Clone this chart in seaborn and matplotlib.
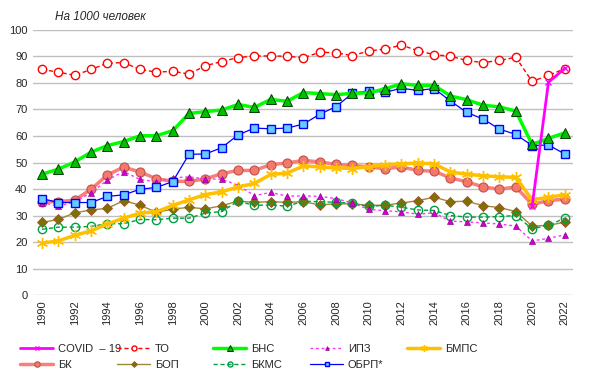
import numpy as np
import pandas as pd
import matplotlib
matplotlib.use('Agg')
import matplotlib.pyplot as plt
import seaborn as sns

years = list(range(1990, 2023))

covid = [np.nan] * 30 + [33.5, 80.3, 85.5]
to = [85.1, 84.1, 82.9, 85.1, 87.5, 87.7, 85.1, 84.1, 84.4, 83.4, 86.5, 88.1, 89.6, 90.2, 90.2, 90.1, 89.5,
      91.6, 91.4, 90.3, 92.1, 92.8, 94.3, 92.2, 90.7, 90.1, 88.5, 87.7, 88.5, 89.7, 80.6, 82.9, 85.4]
bns = [45.6, 47.5, 50.2, 53.9, 56.4, 57.9, 60.1, 60.1, 62.0, 68.5, 69.2, 69.8, 71.9, 70.8, 73.8, 73.1, 76.4,
       76.0, 75.6, 76.1, 76.3, 77.8, 79.7, 79.1, 79.1, 75.1, 73.7, 71.6, 71.0, 69.4, 56.8, 59.1, 61.2]
ipz = [34.9, 33.5, 35.2, 38.5, 43.4, 46.6, 43.6, 42.7, 44.2, 44.6, 43.8, 43.7, 41.4, 37.5, 38.7, 37.3, 37.4,
       37.2, 36.4, 34.7, 32.3, 31.8, 31.4, 30.5, 31.0, 27.9, 27.6, 27.2, 26.8, 26.0, 20.4, 21.4, 22.7]
bmps = [19.6, 20.4, 22.5, 24.2, 26.8, 29.0, 30.9, 31.4, 33.8, 35.9, 37.9, 38.9, 40.8, 42.1, 45.5, 46.0, 48.7,
        48.3, 48.0, 47.7, 48.4, 49.2, 49.5, 49.8, 49.5, 46.4, 45.6, 45.0, 44.6, 44.4, 35.9, 36.9, 37.8]
bk = [35.2, 35.2, 35.8, 39.9, 45.3, 48.3, 46.4, 43.9, 42.9, 42.9, 43.8, 45.8, 47.0, 47.0, 49.2, 49.8, 50.8,
      50.2, 49.3, 48.9, 48.3, 47.7, 48.3, 47.0, 46.7, 44.2, 42.7, 40.8, 39.9, 40.8, 34.2, 35.6, 36.2]
bop = [27.4, 28.5, 31.0, 32.1, 32.7, 35.6, 33.9, 31.2, 32.4, 33.1, 32.5, 33.7, 35.4, 35.0, 35.2, 35.0, 35.2,
       34.0, 34.4, 34.4, 33.8, 33.9, 34.7, 35.6, 36.9, 35.2, 35.4, 33.7, 33.0, 31.5, 26.0, 26.3, 27.5]
bkms = [24.8, 25.6, 25.6, 25.9, 26.9, 26.9, 28.5, 28.4, 29.0, 29.0, 30.9, 31.5, 35.4, 33.8, 34.0, 33.5, 35.4,
        35.2, 35.0, 34.6, 33.4, 33.9, 33.1, 32.1, 31.9, 30.0, 29.4, 29.4, 29.6, 30.0, 25.0, 26.3, 29.0]
obrp = [36.4, 34.9, 34.9, 34.9, 37.2, 37.8, 39.9, 40.6, 42.8, 53.1, 53.2, 55.6, 60.4, 63.0, 62.7, 63.0, 64.5,
        68.2, 71.1, 76.1, 77.1, 76.5, 78.0, 77.2, 77.9, 73.2, 68.9, 66.4, 62.6, 60.6, 56.4, 56.6, 53.2]

df = pd.DataFrame({'year': years, 'COVID  – 19': covid, 'ТО': to, 'БНС': bns, 'ИПЗ': ipz, 'БМПС': bmps,
                   'БК': bk, 'БОП': bop, 'БКМС': bkms, 'ОБРП*': obrp})

sns.set_style('white')
plt.rcParams['font.family'] = ['Liberation Sans', 'DejaVu Sans']

styles = {
    'БК': dict(color='#FA7F78', lw=2.5, ls='-', marker='o', ms=6.5, mfc='#F4786C', mec='#C0504D', mew=0.8),
    'БОП': dict(color='#9C8A34', lw=1.0, ls='-', marker='D', ms=5, mfc='#807000', mec='#A0522D', mew=0.6),
    'БКМС': dict(color='#00A040', lw=1.0, ls=(0, (3, 2)), marker='o', ms=6, mfc='none', mec='#00A040', mew=1.0),
    'ИПЗ': dict(color='#FF33FF', lw=1.0, ls=(0, (2, 2)), marker='^', ms=4.5, mfc='#CC00CC', mec='#990099', mew=0.5),
    'БМПС': dict(color='#FFC000', lw=2.5, ls='-', marker=(6, 2, 0), ms=8, mec='#FFC000', mew=1.0),
    'ОБРП*': dict(color='#0000FF', lw=0.9, ls='-', marker='s', ms=6, mfc='#66CCFF', mec='#0000FF', mew=1.0),
    'БНС': dict(color='#00FF00', lw=2.5, ls='-', marker='^', ms=7, mfc='#00C000', mec='#004000', mew=0.7),
    'ТО': dict(color='#FF0000', lw=1.0, ls=(0, (3, 2)), marker='o', ms=6, mfc='white', mec='#FF0000', mew=1.0),
    'COVID  – 19': dict(color='#FF00FF', lw=2.0, ls='-', marker='x', ms=5, mec='#FF00FF', mew=1.0),
}

fig = plt.figure(figsize=(6.06, 3.74), dpi=100)
ax = fig.add_axes([0.0545, 0.2112, 0.891, 0.7086])

for name, st in styles.items():
    sub = df[['year', name]].dropna()
    sns.lineplot(data=sub, x='year', y=name, ax=ax, label=name, color=st['color'], linewidth=st['lw'],
                 linestyle=st['ls'], marker=st['marker'], markersize=st['ms'],
                 markerfacecolor=st.get('mfc', st['color']), markeredgecolor=st['mec'],
                 markeredgewidth=st['mew'], legend=False)

ax.set_xlim(1989.45, 2022.5)
ax.set_ylim(0, 100)
ax.set_yticks(range(0, 101, 10))
ax.set_xticks(range(1990, 2023, 2))
ax.set_xticklabels([str(y) for y in range(1990, 2023, 2)], rotation=90)
ax.tick_params(axis='both', labelsize=8, length=0, pad=4)
ax.set_xlabel('')
ax.set_ylabel('')
ax.yaxis.grid(True, color='#BFBFBF', linewidth=1)
ax.set_axisbelow(True)
for s in ax.spines.values():
    s.set_visible(False)

fig.text(0.09, 0.955, 'На 1000 человек', fontsize=8.5, style='italic', ha='left', va='center')

# legend: fixed-width columns like the original
handles, labels = ax.get_legend_handles_labels()
hmap = dict(zip(labels, handles))
columns = [['COVID  – 19', 'БК'], ['ТО', 'БОП'], ['БНС', 'БКМС'], ['ИПЗ', 'ОБРП*'], ['БМПС']]
col_x = [20, 117, 213, 310, 407]
for names, x in zip(columns, col_x):
    leg = fig.legend([hmap[n] for n in names], names, loc='upper left',
                     bbox_to_anchor=(x / 606, 1 - 344 / 374), frameon=False, fontsize=8,
                     handlelength=3.0, handletextpad=0.4, labelspacing=0.55, borderaxespad=0,
                     borderpad=0, markerscale=0.6)

fig.savefig('out.png', dpi=100)
